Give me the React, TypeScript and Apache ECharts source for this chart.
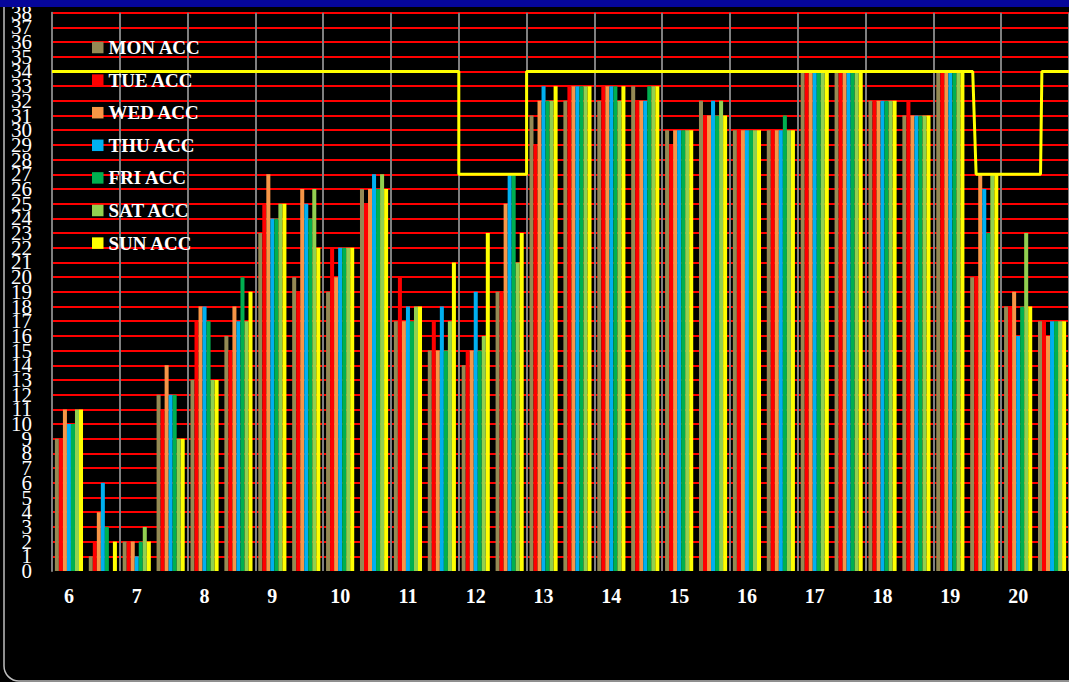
import React, { useEffect, useRef } from "react";
import * as echarts from "echarts";

const categories = [
  "6:00", "6:30", "7:00", "7:30", "8:00", "8:30", "9:00", "9:30", "10:00", "10:30",
  "11:00", "11:30", "12:00", "12:30", "13:00", "13:30", "14:00", "14:30", "15:00", "15:30",
  "16:00", "16:30", "17:00", "17:30", "18:00", "18:30", "19:00", "19:30", "20:00", "20:30",
];

const seriesNames = ["MON ACC", "TUE ACC", "WED ACC", "THU ACC", "FRI ACC", "SAT ACC", "SUN ACC"];
const seriesColors = ["#948A54", "#FF0000", "#F79646", "#00B0F0", "#00B050", "#92D050", "#FFFF00"];

const monAcc = [9, 1, 2, 12, 13, 16, 23, 20, 19, 26, 17, 15, 14, 19, 31, 32, 32, 33, 30, 32, 30, 30, 34, 34, 32, 31, 34, 20, 18, 17];
const tueAcc = [9, 2, 2, 11, 17, 15, 25, 19, 22, 25, 20, 17, 15, 19, 29, 33, 33, 32, 29, 31, 30, 30, 34, 34, 32, 32, 34, 20, 18, 17];
const wedAcc = [11, 4, 2, 14, 18, 18, 27, 26, 20, 26, 17, 15, 15, 25, 32, 33, 33, 32, 30, 31, 30, 30, 34, 34, 32, 31, 34, 27, 19, 16];
const thuAcc = [10, 6, 1, 12, 18, 17, 24, 25, 22, 27, 18, 18, 19, 27, 33, 33, 33, 32, 30, 32, 30, 30, 34, 34, 32, 31, 34, 26, 16, 17];
const friAcc = [10, 3, 2, 12, 17, 20, 24, 24, 22, 26, 17, 15, 15, 27, 32, 33, 33, 33, 30, 31, 30, 31, 34, 34, 32, 31, 34, 23, 18, 17];
const satAcc = [11, 0, 3, 9, 13, 17, 25, 26, 22, 27, 18, 17, 16, 21, 32, 33, 32, 33, 30, 32, 30, 30, 34, 34, 32, 31, 34, 27, 23, 17];
const sunAcc = [11, 2, 2, 9, 13, 19, 25, 22, 22, 26, 18, 21, 23, 23, 33, 33, 33, 33, 30, 31, 30, 30, 34, 34, 32, 31, 34, 27, 18, 17];

// capacity step line: time in hours, capacity value
const capacityTimes = [5.75, 11.75, 11.75, 12.75, 12.75, 19.33, 19.38, 20.33, 20.35, 20.75];
const capacityValues = [34, 34, 27, 27, 34, 34, 27, 27, 34, 34];

const yMin = 0;
const yMax = 38;
const yInterval = 1;

export default function App() {
  const ref = useRef<HTMLDivElement>(null);

  useEffect(() => {
    if (!ref.current) return;
    const chart = echarts.init(ref.current, undefined, { renderer: "svg" });
    const allData = [monAcc, tueAcc, wedAcc, thuAcc, friAcc, satAcc, sunAcc];

    const barSeries = seriesNames.map((name, i) => ({
      name,
      type: "bar",
      xAxisIndex: 0,
      yAxisIndex: 0,
      data: allData[i],
      barGap: "0%",
      barCategoryGap: "17%",
      itemStyle: { color: seriesColors[i] },
      z: 2,
    }));

    const yLabelStyle = {
      margin: 20,
      color: "#FFFFFF",
      fontFamily: "Liberation Serif",
      fontSize: 21,
    };

    chart.setOption({
      animation: false,
      backgroundColor: "#000000",
      legend: {
        data: seriesNames,
        orient: "vertical",
        left: 92,
        top: 37.5,
        padding: 0,
        itemWidth: 11.5,
        itemHeight: 11.5,
        itemGap: 12.6,
        icon: "rect",
        textStyle: {
          color: "#FFFFFF",
          fontFamily: "Liberation Serif",
          fontWeight: "bold",
          fontSize: 19,
          lineHeight: 20,
        },
      },
      grid: { left: 52, top: 12.7, width: 1020, height: 558.3, containLabel: false },
      xAxis: [
        {
          type: "category",
          data: categories,
          boundaryGap: true,
          axisLine: { show: false },
          axisTick: { show: false, interval: 1 },
          splitLine: { show: true, interval: 1, lineStyle: { color: "#7F7F7F", width: 2 } },
          axisLabel: {
            interval: 1,
            margin: 15,
            color: "#FFFFFF",
            fontFamily: "Liberation Serif",
            fontWeight: "bold",
            fontSize: 20,
            formatter: (v: string) => (v.endsWith(":00") ? v.split(":")[0] : ""),
          },
        },
        {
          type: "value",
          min: 5.75,
          max: 20.75,
          show: false,
          splitLine: { show: false },
        },
      ],
      yAxis: [
        {
          type: "value",
          min: yMin,
          max: yMax,
          interval: yInterval,
          position: "left",
          axisLine: { show: true, lineStyle: { color: "#7F7F7F", width: 2 } },
          axisTick: { show: false },
          splitLine: { show: true, showMinLine: false, lineStyle: { color: "#FF0000", width: 2 } },
          axisLabel: {
            ...yLabelStyle,
            showMinLabel: false,
            showMaxLabel: false,
          },
        },
        {
          type: "value",
          min: yMin,
          max: yMax,
          interval: yInterval,
          position: "left",
          offset: 0,
          axisLine: { show: false },
          axisTick: { show: false },
          splitLine: { show: false },
          axisLabel: {
            ...yLabelStyle,
            showMinLabel: true,
            showMaxLabel: true,
            formatter: (v: number) => (v === yMin || v === yMax ? String(v) : ""),
          },
        },
      ],
      series: [
        ...barSeries,
        {
          name: "CAPACITY",
          type: "line",
          xAxisIndex: 1,
          yAxisIndex: 0,
          data: capacityTimes.map((t, i) => [t, capacityValues[i]]),
          showSymbol: false,
          symbol: "none",
          lineStyle: { color: "#FFFF00", width: 3 },
          z: 5,
        },
      ],
      graphic: [
        {
          type: "rect",
          z: 100,
          silent: true,
          shape: { x: 4, y: -30, width: 1100, height: 711, r: 15 },
          style: { fill: "none", stroke: "#BFBFBF", lineWidth: 1.5 },
        },
        {
          type: "rect",
          z: 101,
          silent: true,
          shape: { x: 0, y: 0, width: 1069, height: 7 },
          style: { fill: "#06069A" },
        },
      ],
    });

    return () => chart.dispose();
  }, []);

  return (
    <div
      ref={ref}
      style={{ position: "fixed", left: 0, top: 0, width: 1069, height: 682 }}
    />
  );
}
